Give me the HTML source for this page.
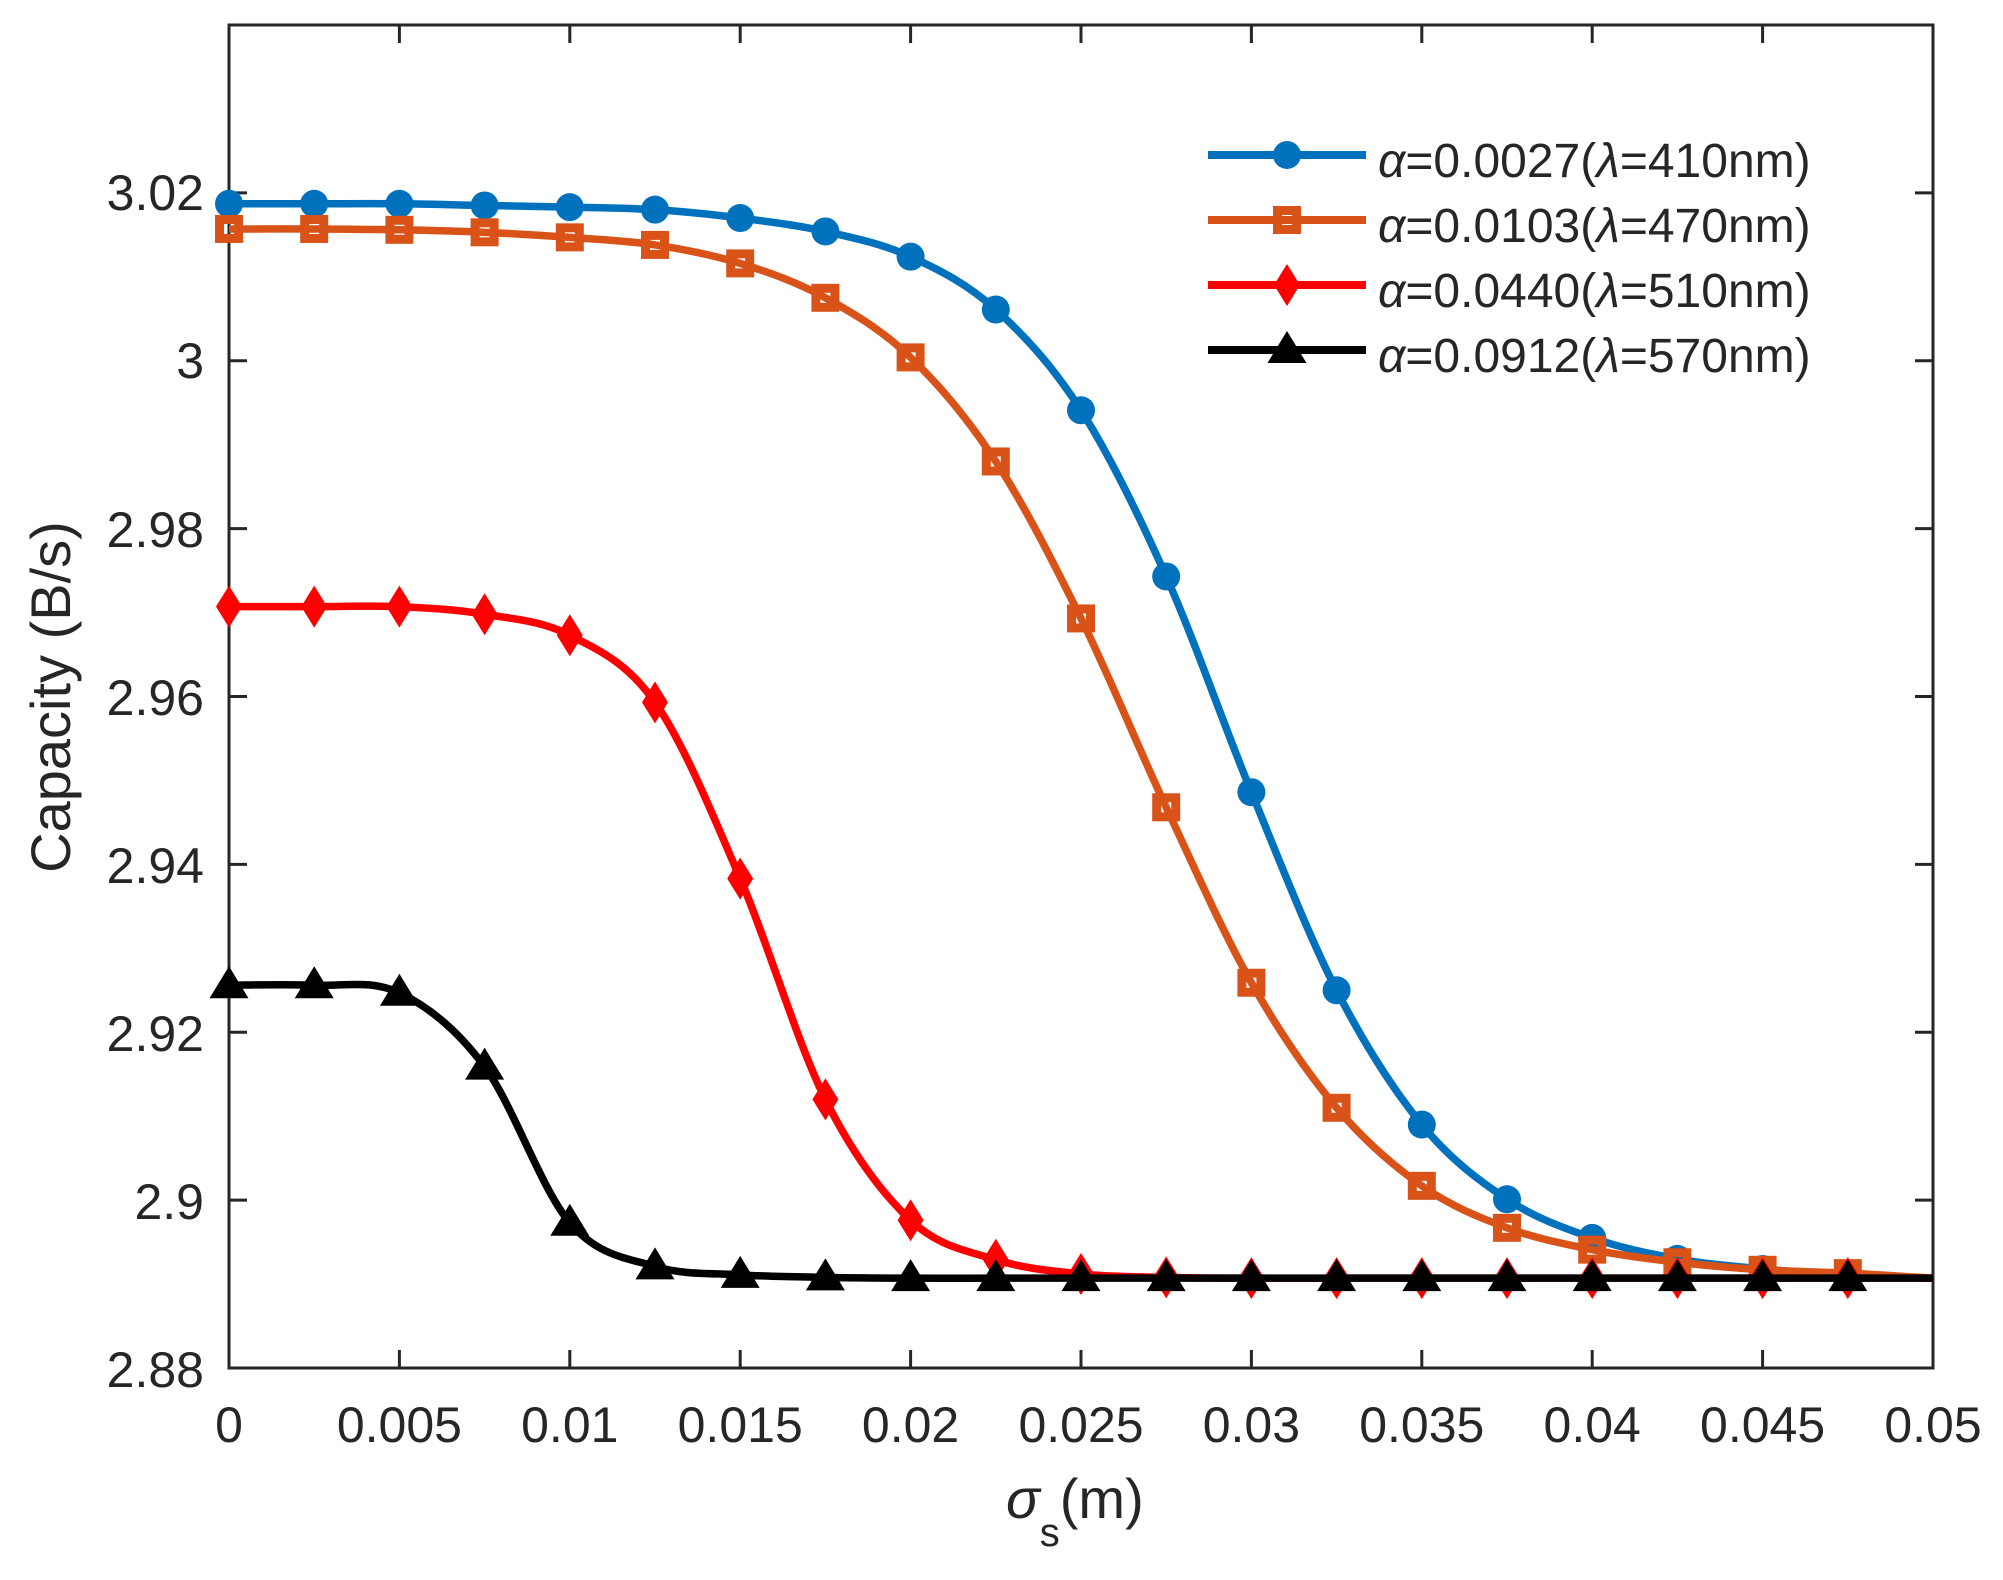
<!DOCTYPE html>
<html><head><meta charset="utf-8"><style>
html,body{margin:0;padding:0;background:#fff;}
svg{display:block;font-family:"Liberation Sans",sans-serif;}
</style></head><body>
<svg id="s" width="2003" height="1580" viewBox="0 0 2003 1580" xmlns="http://www.w3.org/2000/svg">
<rect width="2003" height="1580" fill="#fff"/>
<g id="g"></g>
<g fill="#262626" font-size="50">
<text x="204" y="1387" text-anchor="end">2.88</text>
<text x="204" y="1219" text-anchor="end">2.9</text>
<text x="204" y="1051" text-anchor="end">2.92</text>
<text x="204" y="883" text-anchor="end">2.94</text>
<text x="204" y="715" text-anchor="end">2.96</text>
<text x="204" y="547" text-anchor="end">2.98</text>
<text x="204" y="378" text-anchor="end">3</text>
<text x="204" y="210" text-anchor="end">3.02</text>
<g text-anchor="middle">
<text x="229" y="1442">0</text>
<text x="399.4" y="1442">0.005</text>
<text x="569.8" y="1442">0.01</text>
<text x="740.2" y="1442">0.015</text>
<text x="910.6" y="1442">0.02</text>
<text x="1081" y="1442">0.025</text>
<text x="1251.4" y="1442">0.03</text>
<text x="1421.8" y="1442">0.035</text>
<text x="1592.2" y="1442">0.04</text>
<text x="1762.6" y="1442">0.045</text>
<text x="1933" y="1442">0.05</text>
</g>
<text transform="translate(70,697) rotate(-90)" text-anchor="middle" font-size="56">Capacity (B/s)</text>
<text x="1006" y="1518" font-size="56"><tspan font-style="italic">σ</tspan><tspan font-size="40" dy="28">s</tspan><tspan dy="-28">(m)</tspan></text>
<g font-size="48">
<text x="1378" y="177"><tspan font-style="italic">α</tspan>=0.0027(<tspan font-style="italic">λ</tspan>=410nm)</text>
<text x="1378" y="242"><tspan font-style="italic">α</tspan>=0.0103(<tspan font-style="italic">λ</tspan>=470nm)</text>
<text x="1378" y="307"><tspan font-style="italic">α</tspan>=0.0440(<tspan font-style="italic">λ</tspan>=510nm)</text>
<text x="1378" y="372"><tspan font-style="italic">α</tspan>=0.0912(<tspan font-style="italic">λ</tspan>=570nm)</text>
</g>
</g>
</svg>
<script>
var NS="http://www.w3.org/2000/svg",g=document.getElementById("g");
function X(v){return 229+v/0.05*1704;}
function Y(v){return 1368-(v-2.88)/0.16*1343;}
function el(t,a){var e=document.createElementNS(NS,t);for(var k in a)e.setAttribute(k,a[k]);g.appendChild(e);return e;}
var S=[
{c:"#0072BD",m:"o",d:[3.0187,3.0187,3.0187,3.0185,3.0183,3.018,3.017,3.0154,3.0124,3.0061,2.9941,2.9743,2.9486,2.925,2.909,2.9001,2.8955,2.893,2.8918,2.8911,2.8907]},
{c:"#D95319",m:"s",d:[3.0157,3.0157,3.0156,3.0153,3.0147,3.0138,3.0116,3.0075,3.0004,2.988,2.9693,2.9468,2.9259,2.911,2.9017,2.8967,2.8941,2.8926,2.8917,2.8913,2.8907]},
{c:"#FF0000",m:"d",d:[2.9707,2.9707,2.9707,2.9698,2.9673,2.9593,2.9383,2.912,2.8976,2.8929,2.8912,2.8908,2.8907,2.8907,2.8907,2.8907,2.8907,2.8907,2.8907,2.8907,2.8907]},
{c:"#000000",m:"t",d:[2.9256,2.9256,2.9247,2.9159,2.8973,2.8921,2.8911,2.8908,2.8907,2.8907,2.8907,2.8907,2.8907,2.8907,2.8907,2.8907,2.8907,2.8907,2.8907,2.8907,2.8907]}];
function marker(m,x,y,c){
 if(m=="o")el("circle",{cx:x,cy:y,r:14,fill:c});
 else if(m=="s")el("rect",{x:x-9.5,y:y-9.5,width:19,height:19,fill:"none",stroke:c,"stroke-width":9});
 else if(m=="d")el("path",{d:"M"+x+","+(y-21)+"L"+(x+13)+","+y+"L"+x+","+(y+21)+"L"+(x-13)+","+y+"Z",fill:c});
 else el("path",{d:"M"+x+","+(y-19)+"L"+(x+19.5)+","+(y+13)+"L"+(x-19.5)+","+(y+13)+"Z",fill:c});
}
el("rect",{x:229,y:25,width:1704,height:1343,fill:"none",stroke:"#262626","stroke-width":3});
for(var i=0;i<=10;i++){var x=X(i*0.005);el("line",{x1:x,y1:1368,x2:x,y2:1350,stroke:"#262626","stroke-width":3});el("line",{x1:x,y1:25,x2:x,y2:43,stroke:"#262626","stroke-width":3});}
for(var i=0;i<=7;i++){var y=Y(2.88+i*0.02);el("line",{x1:229,y1:y,x2:247,y2:y,stroke:"#262626","stroke-width":3});el("line",{x1:1933,y1:y,x2:1915,y2:y,stroke:"#262626","stroke-width":3});}
S.forEach(function(s){
 var p=s.d.map(function(v,i){return [X(i*0.0025),Y(v)];});
 var d="M"+p[0][0]+","+p[0][1];
 for(var i=0;i<p.length-1;i++){
  var p0=p[Math.max(0,i-1)],p1=p[i],p2=p[i+1],p3=p[Math.min(p.length-1,i+2)];
  var c1=[p1[0]+(p2[0]-p0[0])/6,p1[1]+(p2[1]-p0[1])/6],c2=[p2[0]-(p3[0]-p1[0])/6,p2[1]-(p3[1]-p1[1])/6];
  d+="C"+c1+" "+c2+" "+p2;
 }
 el("path",{d:d,fill:"none",stroke:s.c,"stroke-width":7.5});
 for(var i=0;i<p.length-1;i++)marker(s.m,p[i][0],p[i][1],s.c);
});
var ly=[155,220,285,350];
S.forEach(function(s,k){el("line",{x1:1208,y1:ly[k],x2:1366,y2:ly[k],stroke:s.c,"stroke-width":8});marker(s.m,1287,ly[k],s.c);});
</script>
</body></html>
